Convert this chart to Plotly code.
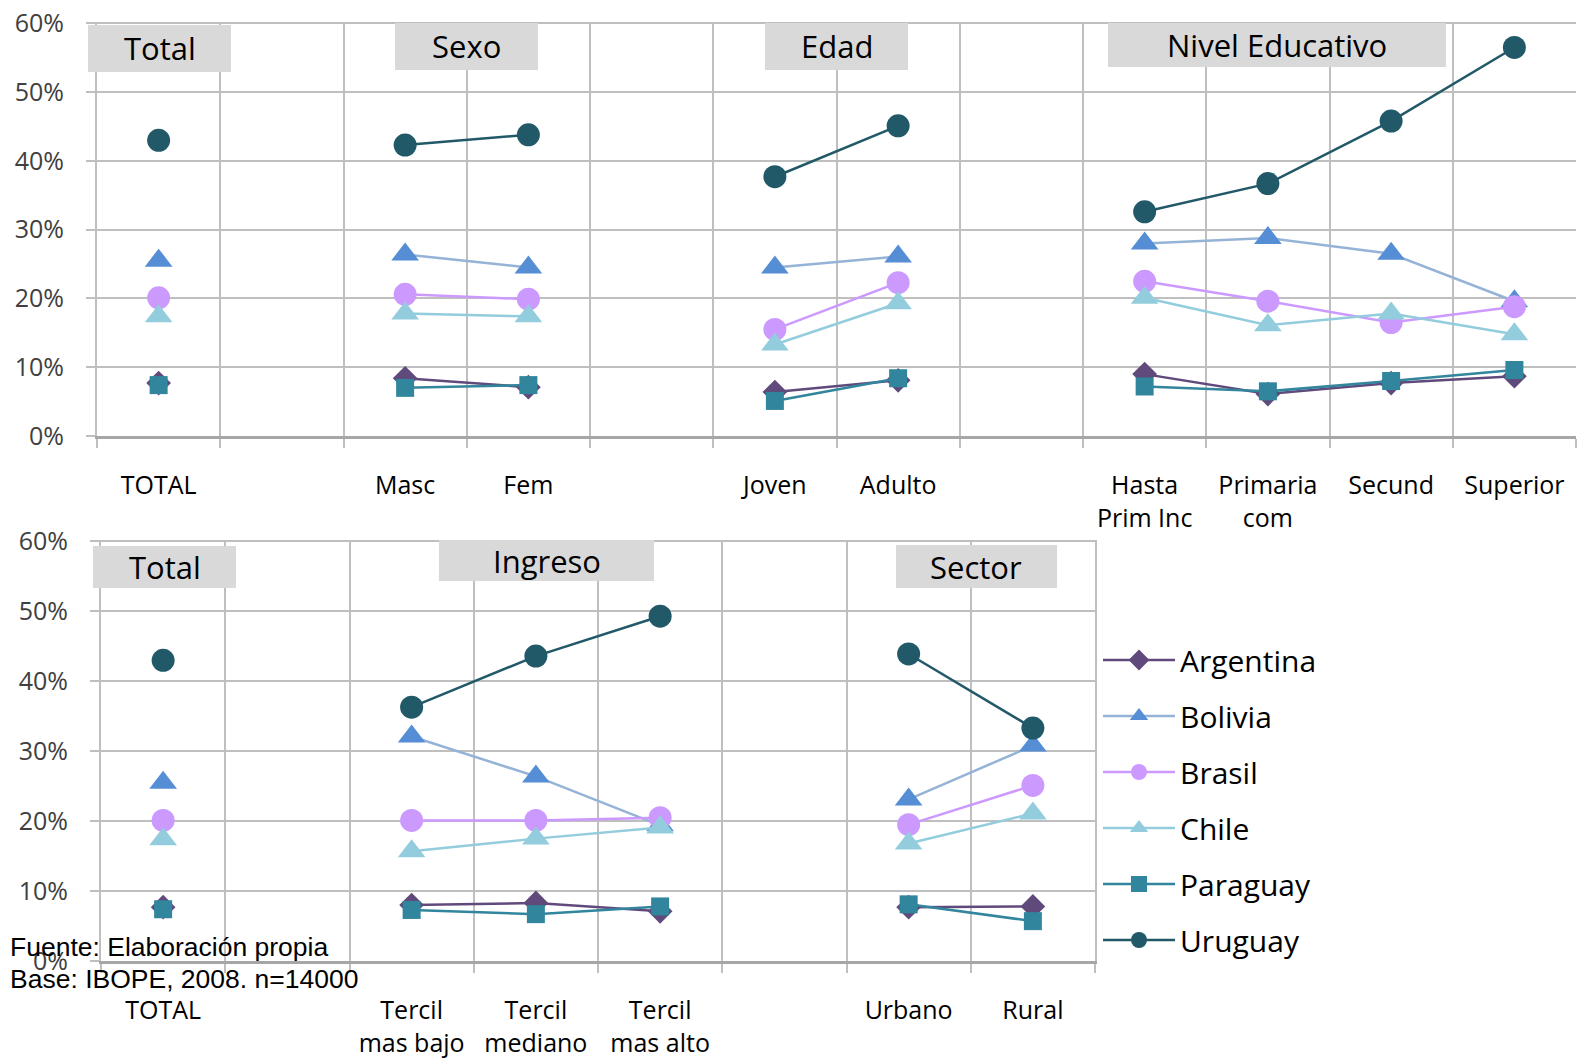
import plotly.graph_objects as go

W, H = 1577, 1062

# ---------------- data ----------------
cats_top = ["TOTAL", " ", "Masc", "Fem", "  ", "Joven", "Adulto", "   ",
            "Hasta<br>Prim Inc", "Primaria<br>com", "Secund", "Superior"]
cats_bot = ["TOTAL", " ", "Tercil<br>mas bajo", "Tercil<br>mediano", "Tercil<br>mas alto",
            "  ", "Urbano", "Rural"]

countries = ["Argentina", "Bolivia", "Brasil", "Chile", "Paraguay", "Uruguay"]

argentina_top = [7.7, None, 8.4, 7.1, None, 6.4, 8.1, None, 9.0, 6.1, 7.7, 8.7]
bolivia_top   = [25.5, None, 26.4, 24.5, None, 24.5, 26.1, None, 28.0, 28.8, 26.5, 19.6]
brasil_top    = [20.1, None, 20.6, 19.9, None, 15.5, 22.3, None, 22.5, 19.6, 16.5, 18.8]
chile_top     = [17.4, None, 17.8, 17.4, None, 13.3, 19.3, None, 20.1, 16.1, 17.8, 14.8]
paraguay_top  = [7.4, None, 7.0, 7.4, None, 5.1, 8.4, None, 7.2, 6.5, 8.0, 9.6]
uruguay_top   = [43.0, None, 42.3, 43.8, None, 37.7, 45.1, None, 32.6, 36.7, 45.8, 56.5]

argentina_bot = [7.7, None, 8.0, 8.3, 7.1, None, 7.7, 7.8]
bolivia_bot   = [25.5, None, 32.1, 26.4, 19.4, None, 23.1, 30.8]
brasil_bot    = [20.1, None, 20.1, 20.1, 20.5, None, 19.5, 25.1]
chile_bot     = [17.4, None, 15.7, 17.5, 19.1, None, 16.8, 21.1]
paraguay_bot  = [7.4, None, 7.3, 6.7, 7.8, None, 8.1, 5.7]
uruguay_bot   = [43.0, None, 36.3, 43.6, 49.3, None, 43.9, 33.3]

y_ticks = [0, 10, 20, 30, 40, 50, 60]
y_tick_labels = ["0%", "10%", "20%", "30%", "40%", "50%", "60%"]

# ---------------- styles ----------------
marker_colors = ["#604A7B", "#558ED5", "#CC99FF", "#93CDDD", "#31859C", "#215968"]
line_colors   = ["#604A7B", "#95B3D7", "#CC99FF", "#93CDDD", "#31859C", "#215968"]
symbols = ["diamond", "triangle-up", "circle", "triangle-up", "square", "circle"]
sizes = [19, 24, 23, 24, 18, 23]

top_series = [argentina_top, bolivia_top, brasil_top, chile_top, paraguay_top, uruguay_top]
bot_series = [argentina_bot, bolivia_bot, brasil_bot, chile_bot, paraguay_bot, uruguay_bot]

FONT = "Open Sans"
GRID = "#BFBFBF"

fig = go.Figure()
for i, name in enumerate(countries):
    common = dict(mode="lines+markers", name=name, legendgroup=name,
                  line=dict(color=line_colors[i], width=2.5),
                  marker=dict(symbol=symbols[i], size=sizes[i], color=marker_colors[i],
                              line=dict(width=0)),
                  connectgaps=False, hoverinfo="x+y")
    fig.add_trace(go.Scatter(x=cats_top, y=top_series[i], xaxis="x", yaxis="y",
                             showlegend=False, **common))
    fig.add_trace(go.Scatter(x=cats_bot, y=bot_series[i], xaxis="x2", yaxis="y2",
                             showlegend=True, **common))


def px_x(p):
    return p / W


def px_y(p):
    return 1 - p / H


xaxis_common = dict(type="category", tickson="boundaries", showgrid=True, gridcolor=GRID,
                    gridwidth=2, ticks="outside", ticklen=9, tickwidth=2, tickcolor=GRID,
                    showline=True, linecolor="#A6A6A6", linewidth=3,
                    tickfont=dict(family=FONT, size=25, color="#000000"),
                    ticklabelstandoff=25, zeroline=False, fixedrange=True,
                    automargin=False)
yaxis_common = dict(range=[0, 60.2], tickvals=y_ticks, ticktext=y_tick_labels,
                    showgrid=True, gridcolor=GRID, gridwidth=2, ticks="outside",
                    ticklen=9, tickwidth=2, tickcolor=GRID, showline=True,
                    linecolor=GRID, linewidth=2, zeroline=False,
                    tickfont=dict(family=FONT, size=25, color="#404040"),
                    ticklabelstandoff=17, fixedrange=True, automargin=False)

fig.update_layout(
    width=W, height=H,
    margin=dict(l=0, r=0, t=0, b=0, autoexpand=False),
    paper_bgcolor="white", plot_bgcolor="white",
    xaxis=dict(domain=[px_x(97), px_x(1576)], anchor="y",
               categoryorder="array", categoryarray=cats_top,
               range=[-0.5, len(cats_top) - 0.5], **xaxis_common),
    yaxis=dict(domain=[px_y(436), px_y(22)], anchor="x", **yaxis_common),
    xaxis2=dict(domain=[px_x(101), px_x(1095)], anchor="y2",
                categoryorder="array", categoryarray=cats_bot,
                range=[-0.5, len(cats_bot) - 0.5], **xaxis_common),
    yaxis2=dict(domain=[px_y(961), px_y(540)], anchor="x2", mirror=True, **yaxis_common),
    showlegend=True,
    legend=dict(x=px_x(1098), y=px_y(634), xanchor="left", yanchor="top",
                font=dict(family=FONT, size=30, color="#000000"),
                itemwidth=72, tracegroupgap=14, bgcolor="rgba(0,0,0,0)",
                traceorder="grouped"),
)

# group label boxes (decoration)
boxes = [
    ("Total", 88, 231, 25, 72),
    ("Sexo", 395, 538, 23, 70),
    ("Edad", 765, 908, 23, 70),
    ("Nivel Educativo", 1108, 1446, 23, 67),
    ("Total", 93, 236, 546, 588),
    ("Ingreso", 439, 654, 540, 581),
    ("Sector", 896, 1057, 545, 588),
]
for text, x0, x1, y0, y1 in boxes:
    fig.add_shape(type="rect", xref="paper", yref="paper",
                  x0=px_x(x0), x1=px_x(x1), y0=px_y(y1), y1=px_y(y0),
                  fillcolor="#D9D9D9", line=dict(width=0), layer="above")
    fig.add_annotation(x=px_x((x0 + x1) / 2), y=px_y((y0 + y1) / 2), xref="paper", yref="paper",
                       text=text, showarrow=False, xanchor="center", yanchor="middle",
                       font=dict(family=FONT, size=31, color="#000000"))

fig.add_annotation(x=px_x(8), y=px_y(947), xref="paper", yref="paper",
                   text="Fuente: Elaboración propia", showarrow=False,
                   xanchor="left", yanchor="middle",
                   font=dict(family="Liberation Sans", size=26.5, color="#000000"))
fig.add_annotation(x=px_x(8), y=px_y(979), xref="paper", yref="paper",
                   text="Base: IBOPE, 2008. n=14000", showarrow=False,
                   xanchor="left", yanchor="middle",
                   font=dict(family="Liberation Sans", size=26.5, color="#000000"))

fig.write_html("out.html")
